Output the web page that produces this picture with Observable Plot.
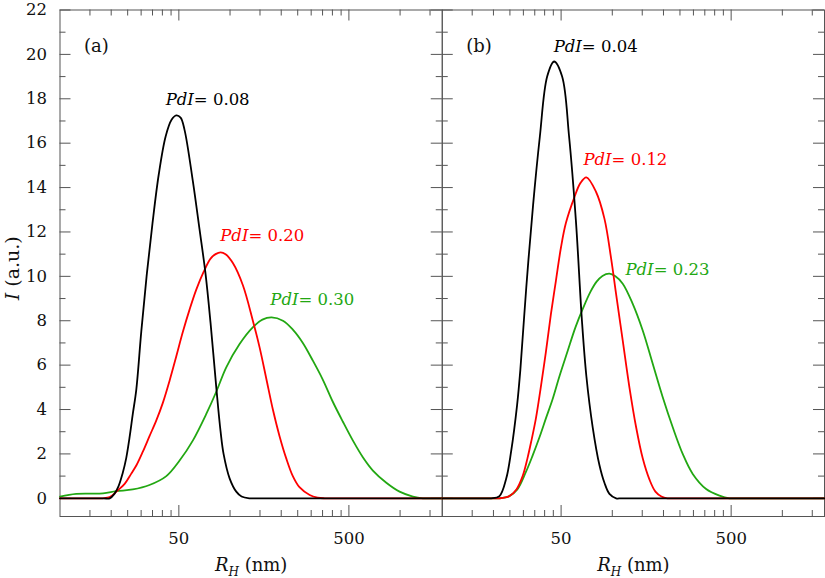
<!DOCTYPE html>
<html><head><meta charset="utf-8">
<script src="https://cdn.jsdelivr.net/npm/d3@7"></script>
<script src="https://cdn.jsdelivr.net/npm/@observablehq/plot@0.6"></script>
<style>html,body{margin:0;padding:0;background:#fff}#chart svg{display:block}</style>
</head><body><div id="chart"></div>
<script>
// ---- data (R_H in nm, intensity in a.u.) ----
const a_pdi008 = [[10,0],[18,0],[19.6,0],[20.9,0.2],[22.1,0.55],[23.3,1.1],[24.5,1.8],[25.6,2.7],[26.8,3.8],[28.1,4.9],[30.05,7.5],[32.3,10.0],[35.0,12.4],[38.1,14.6],[41.8,16.3],[45.3,17.05],[48.3,17.25],[51.2,17.15],[54.0,16.6],[60.4,14.3],[66.2,12.1],[71.8,10.1],[76.8,7.9],[83.0,5.0],[88.0,3.0],[91.6,2.0],[99.4,0.9],[108.8,0.3],[116.9,0.08],[130.3,0],[142,0],[1770,0]];
const a_pdi020 = [[10,0],[16,0],[17.8,0],[19.6,0.05],[21.8,0.35],[24.0,0.65],[26.2,1.1],[28.2,1.5],[30.7,2.1],[33.6,2.8],[36.8,3.5],[40.25,4.3],[44.1,5.3],[48.3,6.4],[52.8,7.5],[57.8,8.5],[63.3,9.4],[69.9,10.2],[76.8,10.8],[82.2,11.0],[88.0,11.08],[94.1,11.0],[103.9,10.6],[119.0,9.6],[136.2,8.0],[149.2,6.8],[163.3,5.4],[178.6,4.0],[195.5,2.8],[214,1.8],[234,1.0],[256,0.5],[294,0.15],[327,0.03],[360,0],[390,0],[1770,0]];
const a_pdi030 = [[10,0.08],[12.45,0.2],[17.9,0.22],[21.4,0.32],[26.8,0.40],[33.6,0.6],[42.2,1.0],[50.5,1.7],[60.4,2.6],[72.5,3.8],[83.0,4.8],[95.0,5.9],[113.8,6.95],[136,7.7],[155,8.05],[175.5,8.15],[204.6,8.0],[234,7.6],[268,7.0],[307,6.2],[351,5.35],[402,4.35],[461,3.45],[528,2.6],[604,1.85],[692,1.25],[830,0.7],[993,0.3],[1189,0.08],[1362,0],[1450,0],[1770,0]];
const b_pdi004 = [[10,0],[18,0],[19.4,0],[21.7,0.1],[23.8,0.9],[25.4,2.1],[27.55,4.2],[28.8,5.8],[31.2,9.5],[34.2,13.2],[37.5,16.3],[41.4,19.0],[45.5,19.68],[50.7,19.0],[55.7,16.3],[61.1,12.5],[66.3,8.0],[70.4,5.5],[76.7,3.2],[84.0,1.5],[89.9,0.7],[96.2,0.2],[105.3,0],[114,0],[1770,0]];
const b_pdi012 = [[10,0],[20,0],[21.7,0],[24.8,0.1],[27.3,0.4],[29.7,1.0],[31.7,1.8],[33.45,2.6],[35.55,3.6],[37.8,4.9],[40.7,6.6],[43.55,8.3],[46.6,9.8],[49.9,11.3],[53.35,12.4],[59.9,13.57],[64.9,14.2],[70.4,14.46],[80.3,13.8],[89.9,12.6],[98.45,10.8],[105.3,9.2],[115.2,7.1],[126.1,5.0],[138.1,3.2],[151,1.8],[165.3,0.85],[179.3,0.3],[194.5,0.08],[211,0],[228,0],[1770,0]];
const b_pdi023 = [[10,0],[20,0],[21.7,0],[24.8,0.1],[27.65,0.4],[31.1,1.2],[33.9,1.9],[37.3,2.75],[40.7,3.6],[44.5,4.45],[48.9,5.5],[54.45,6.6],[60.7,7.7],[67.6,8.6],[74.35,9.3],[80.65,9.75],[87.5,10.02],[96.2,10.12],[104.3,10.0],[115.2,9.67],[131.9,8.76],[151,7.56],[172.9,6.06],[198,4.55],[226.7,3.2],[259.5,2.0],[297.2,1.1],[356.4,0.42],[426.9,0.12],[488.7,0],[525,0],[1770,0]];

const panels = ["a", "b"];
const panelLetters = ["(a)", "(b)"];
const seriesColors = ["#000000", "#ff0000", "#22a712"];

const labelPanel = ["a", "a", "a", "b", "b", "b"];
const labelText = ["PdI= 0.08", "PdI= 0.20", "PdI= 0.30", "PdI= 0.04", "PdI= 0.12", "PdI= 0.23"];
const labelR = [41.8, 87.6, 172.5, 45.2, 67.6, 119.5];
const labelI = [17.94, 11.83, 8.93, 20.35, 15.24, 10.32];
const labelColor = ["#000000", "#ff0000", "#22a712", "#000000", "#ff0000", "#22a712"];

const xMajorTicks = [50, 500];
const xMinorTicks = [15, 20, 25, 30, 35, 40, 45, 100, 150, 200, 250, 300, 350, 400, 450, 1000, 1500];
const yMajorTicks = [0, 2, 4, 6, 8, 10, 12, 14, 16, 18, 20, 22];
const yMinorTicks = [1, 3, 5, 7, 9, 11, 13, 15, 17, 19, 21];

// ---- layout ----
const W = 825, H = 578, mL = 59.5, mR = 1, mT = 9.5, mB = 62;
const facetW = (W - mL - mR) / 2, plotH = H - mT - mB;
const AX = "#555";
const FONT = "DejaVu Serif";

const rows = (arr, panel) => arr.map(([r, i]) => ({panel, r, i}));
const curves = [
  [a_pdi030, "a", seriesColors[2]], [a_pdi020, "a", seriesColors[1]], [a_pdi008, "a", seriesColors[0]],
  [b_pdi023, "b", seriesColors[2]], [b_pdi012, "b", seriesColors[1]], [b_pdi004, "b", seriesColors[0]]
];
const labels = labelText.map((t, k) => ({panel: labelPanel[k], t, r: labelR[k], i: labelI[k], c: labelColor[k]}));

const chart = Plot.plot({
  width: W, height: H,
  marginLeft: mL, marginRight: mR, marginTop: mT, marginBottom: mB,
  style: {fontFamily: FONT, fontSize: "16.5px", background: "#fff", color: "#111"},
  fx: {domain: panels, padding: 0, round: false, axis: null},
  x: {type: "log", domain: [10, 1770]},
  y: {domain: [-0.82, 22]},
  marks: [
    Plot.frame({stroke: AX, strokeWidth: 1}),
    // inward ticks on all four sides of each panel
    Plot.tickY(yMajorTicks, {y: d => d, stroke: AX, insetRight: facetW - 11}),
    Plot.tickY(yMajorTicks, {y: d => d, stroke: AX, insetLeft: facetW - 11}),
    Plot.tickY(yMinorTicks, {y: d => d, stroke: AX, insetRight: facetW - 6}),
    Plot.tickY(yMinorTicks, {y: d => d, stroke: AX, insetLeft: facetW - 6}),
    Plot.tickX(xMajorTicks, {x: d => d, stroke: AX, insetTop: plotH - 11}),
    Plot.tickX(xMajorTicks, {x: d => d, stroke: AX, insetBottom: plotH - 11}),
    Plot.tickX(xMinorTicks, {x: d => d, stroke: AX, insetTop: plotH - 6}),
    Plot.tickX(xMinorTicks, {x: d => d, stroke: AX, insetBottom: plotH - 6}),
    ...curves.map(([arr, p, c]) => Plot.line(rows(arr, p), {fx: "panel", x: "r", y: "i", stroke: c, strokeWidth: 1.8, curve: "catmull-rom"})),
    Plot.text(labels, {fx: "panel", x: "r", y: "i", text: "t", fill: "c", textAnchor: "start", lineAnchor: "middle", fontSize: 16.5}),
    Plot.text(panelLetters, {fx: panels, text: d => d, frameAnchor: "top-left", textAnchor: "start", lineAnchor: "middle", dx: 24, dy: 36, fontSize: 18}),
    Plot.axisY({ticks: yMajorTicks, tickSize: 0, tickPadding: 13, label: null, tickFormat: d => String(d), fontSize: 16.5}),
    Plot.axisX({ticks: xMajorTicks, tickSize: 0, tickPadding: 16, label: null, tickFormat: d => String(d), fontSize: 16.5}),
    Plot.text(["RH (nm)"], {text: d => d, frameAnchor: "bottom", textAnchor: "middle", lineAnchor: "middle", dy: 48.5, fontSize: 18}),
    Plot.text(["I (a.u.)"], {fx: ["a"], text: d => d, frameAnchor: "left", textAnchor: "middle", lineAnchor: "middle", rotate: -90, dx: -47.5, dy: 5, fontSize: 19})
  ]
});

// rich text: italics and subscript
const NS = "http://www.w3.org/2000/svg";
function tspan(str, attrs) {
  const s = document.createElementNS(NS, "tspan");
  for (const k in attrs) s.setAttribute(k, attrs[k]);
  s.textContent = str;
  return s;
}
chart.querySelectorAll("text").forEach(t => {
  const s = t.textContent;
  if (s.startsWith("PdI")) {
    t.textContent = "";
    t.appendChild(tspan("PdI", {"font-style": "italic"}));
    t.appendChild(document.createTextNode(s.slice(3)));
  } else if (s === "RH (nm)") {
    t.textContent = "";
    t.appendChild(tspan("R", {"font-style": "italic"}));
    t.appendChild(tspan("H", {"font-style": "italic", "font-size": "12px", "dy": "5"}));
    t.appendChild(tspan(" (nm)", {"dy": "-5"}));
  } else if (s === "I (a.u.)") {
    t.textContent = "";
    t.appendChild(tspan("I", {"font-style": "italic"}));
    t.appendChild(document.createTextNode(" (a.u.)"));
  }
});
document.getElementById("chart").appendChild(chart);
</script></body></html>
